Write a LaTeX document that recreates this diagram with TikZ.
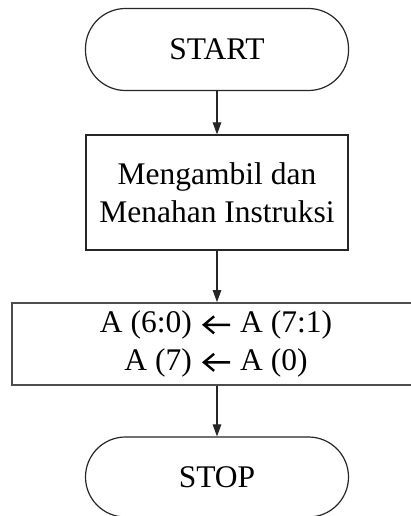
\documentclass[tikz,border=0pt]{standalone}
\usepackage{fontspec}
\setmainfont{Liberation Serif}
\usetikzlibrary{arrows.meta}

% thick left arrow with an open chevron head, set inside text
\newcommand{\chevleft}{\tikz[baseline=-8pt]{\draw[line width=2.4pt,line cap=butt,line join=miter,black]
  (11pt,8.5pt) -- (0.8pt,0pt) -- (11pt,-8.5pt) (1.5pt,0pt) -- (27pt,0pt);}}

\tikzset{
  flowtext/.style={font=\fontsize{31.5}{37.5}\selectfont, text=black, align=center, inner sep=0pt},
  terminal/.style={flowtext, draw=black!85, line width=1.2pt, rectangle, rounded corners=40pt,
    minimum width=263pt, minimum height=82pt},
  process/.style={flowtext, draw=black!85, line width=1.2pt, rectangle, minimum width=262pt},
  flow/.style={draw=black!85, line width=1.1pt, -{Triangle[length=12pt,width=8.5pt]}}
}

\begin{document}
\begin{tikzpicture}[x=1pt,y=-1pt]
  \useasboundingbox (0,0) rectangle (411,516);
  \clip (0,0) rectangle (411,516);
  \fill[white] (0,0) rectangle (411,516);

  \node[terminal] (start) at (217,49.5) {START};
  \node[process, minimum height=115pt] (fetch) at (217,192.5) {Mengambil dan\\Menahan Instruksi};
  \node[process, draw=black!70, line width=1.8pt, minimum width=408pt, minimum height=82pt] (rotate) at (216,344)
    {A (6:0)\hspace{3pt} \chevleft\hspace{1pt} A (7:1)\\A (7)\hspace{3pt} \chevleft\hspace{1pt} A (0)};
  \node[terminal, minimum height=80pt] (stop) at (217,477) {STOP};

  \draw[flow] (start.south) -- (fetch.north);
  \draw[flow] (fetch.south) -- (fetch.south |- rotate.north);
  \draw[flow] (fetch.south |- rotate.south) -- (stop.north);
\end{tikzpicture}
\end{document}
